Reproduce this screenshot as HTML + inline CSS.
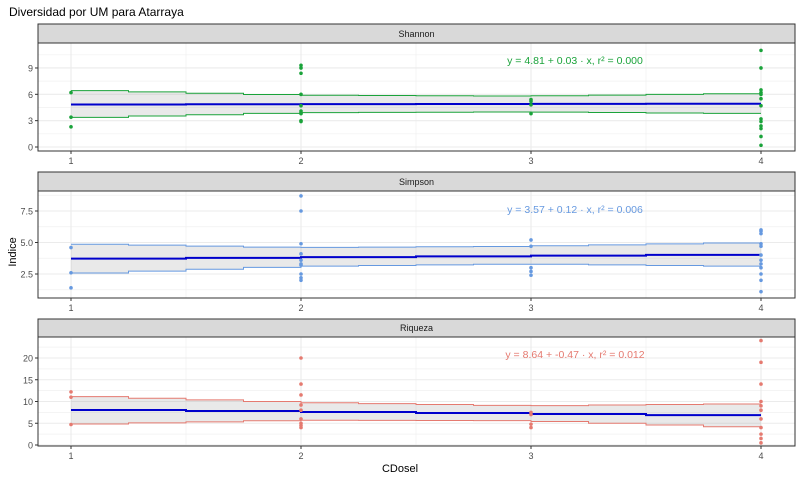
<!DOCTYPE html>
<html><head><meta charset="utf-8"><style>
body{margin:0;background:#fff;font-family:"Liberation Sans",sans-serif}
svg text{font-family:"Liberation Sans",sans-serif}
</style></head><body>
<svg id="c" width="800" height="480" xmlns="http://www.w3.org/2000/svg">
<text x="9" y="16" font-size="12" fill="#000">Diversidad por UM para Atarraya</text>
<text x="400" y="472" font-size="11" text-anchor="middle" fill="#000">CDosel</text>
<text transform="translate(16,252) rotate(-90)" font-size="11" text-anchor="middle" fill="#000">Indice</text>
</svg>
<script>
const categories=[1,2,3,4];
const shannonX=[1,1,1,2,2,2,2,2,2,2,2,2,2,3,3,3,3,4,4,4,4,4,4,4,4,4,4,4,4,4];
const shannonY=[6.2,3.4,2.3,9.3,9.0,8.4,6.0,4.7,4.1,3.9,3.8,3.0,2.9,5.4,5.2,4.8,3.8,11.0,9.0,6.5,6.2,6.0,5.5,4.7,3.2,2.9,2.4,2.1,1.2,0.2];
const shannonUpper=[6.5,5.9,5.8,6.1];
const shannonLower=[3.3,3.9,4.0,3.8];
const shannonTicks=[0,3,6,9];
const simpsonX=[1,1,1,2,2,2,2,2,2,2,2,2,2,3,3,3,3,3,4,4,4,4,4,4,4,4,4,4,4,4];
const simpsonY=[4.6,2.6,1.4,8.7,7.5,4.9,4.1,3.6,3.3,3.2,2.5,2.2,2.0,5.2,4.7,3.0,2.7,2.4,6.0,5.9,5.7,4.9,4.7,4.0,3.6,3.3,3.0,2.5,2.0,1.1];
const simpsonUpper=[4.9,4.6,4.7,5.0];
const simpsonLower=[2.5,3.1,3.3,3.1];
const simpsonTicks=[2.5,5.0,7.5];
const riquezaX=[1,1,1,2,2,2,2,2,2,2,2,2,3,3,3,3,4,4,4,4,4,4,4,4,4,4,4];
const riquezaY=[12.2,11,4.7,20,14,11.5,9.2,8,6,5,4.5,4.0,7.5,7,4.8,4,24,19,14,10,9,8,6,4,2.5,1.5,0.5];
const riquezaUpper=[11.3,9.8,9.0,9.5];
const riquezaLower=[4.7,5.7,5.6,4.0];
const riquezaTicks=[0,5,10,15,20];
const intercepts=[4.81,3.57,8.64];
const slopes=[0.03,0.12,-0.47];
const labels=["y = 4.81 + 0.03 · x,  r² = 0.000","y = 3.57 + 0.12 · x,  r² = 0.006","y = 8.64 + -0.47 · x,  r² = 0.012"];

const svg=document.getElementById('c');
const NS='http://www.w3.org/2000/svg';
function mk(t,a,p){const e=document.createElementNS(NS,t);for(const k in a)e.setAttribute(k,a[k]);(p||svg).appendChild(e);return e;}
const L=38,R=795;
const xs=v=>71+(v-1)*230;
const panels=[
 {name:'Shannon',st:24,top:43,bot:151,y0:147,ppu:8.78,X:shannonX,Y:shannonY,U:shannonUpper,Lo:shannonLower,T:shannonTicks,col:'#1aa33a',ty:64,minor:[1.5,4.5,7.5,10.5]},
 {name:'Simpson',st:172,top:191,bot:298,y0:305.5,ppu:12.6,X:simpsonX,Y:simpsonY,U:simpsonUpper,Lo:simpsonLower,T:simpsonTicks,col:'#6699e0',ty:213,minor:[1.25,3.75,6.25,8.75]},
 {name:'Riqueza',st:319,top:337,bot:446,y0:445,ppu:4.35,X:riquezaX,Y:riquezaY,U:riquezaUpper,Lo:riquezaLower,T:riquezaTicks,col:'#e57a70',ty:358,minor:[2.5,7.5,12.5,17.5,22.5]}
];
function interp(arr,x){const i=Math.min(2,Math.floor(x-1));const f=x-1-i;return arr[i]+(arr[i+1]-arr[i])*f;}
panels.forEach((p,pi)=>{
 const g=mk('g',{});
 
 
 const ys=v=>p.y0-v*p.ppu;
 const strip=mk('rect',{x:L,y:p.st,width:R-L,height:p.top-p.st,fill:'#d9d9d9',stroke:'#333','stroke-width':1},g);
 
 
 const stt=mk('text',{x:(L+R)/2,y:p.top-6,'font-size':9,'text-anchor':'middle',fill:'#1a1a1a'},g);stt.textContent=p.name;
 
 
 p.minor.forEach(v=>{if(ys(v)>p.top&&ys(v)<p.bot)mk('line',{x1:L,x2:R,y1:ys(v),y2:ys(v),stroke:'#f0f0f0','stroke-width':0.7},g);});
 [1.5,2.5,3.5].forEach(v=>mk('line',{x1:xs(v),x2:xs(v),y1:p.top,y2:p.bot,stroke:'#f0f0f0','stroke-width':0.7},g));
 p.T.forEach(v=>{mk('line',{x1:L,x2:R,y1:ys(v),y2:ys(v),stroke:'#ebebeb','stroke-width':1.1},g);
  mk('line',{x1:L-3,x2:L,y1:ys(v),y2:ys(v),stroke:'#333'},g);
  const t=mk('text',{x:L-5,y:ys(v)+3.5,'font-size':9,'text-anchor':'end',fill:'#4d4d4d'},g);t.textContent=p.name==='Simpson'?v.toFixed(1):v;
  
  });
 categories.forEach(c=>{mk('line',{x1:xs(c),x2:xs(c),y1:p.top,y2:p.bot,stroke:'#ebebeb','stroke-width':1.1},g);
  mk('line',{x1:xs(c),x2:xs(c),y1:p.bot,y2:p.bot+3,stroke:'#333'},g);
  const t=mk('text',{x:xs(c),y:p.bot+13,'font-size':9,'text-anchor':'middle',fill:'#4d4d4d'},g);t.textContent=c;
  
  });
 const n=12;let up=[],lo=[];
 for(let i=0;i<n;i++){const a=1+3*i/n,b=1+3*(i+1)/n,m=(a+b)/2;
  up.push([xs(a),ys(interp(p.U,m))],[xs(b),ys(interp(p.U,m))]);
  lo.push([xs(a),ys(interp(p.Lo,m))],[xs(b),ys(interp(p.Lo,m))]);}
 const band=mk('polygon',{points:up.concat(lo.slice().reverse()).map(q=>q.join(',')).join(' '),fill:'#999','fill-opacity':0.22},g);
 
 
 [up,lo].forEach(arr=>{const l=mk('polyline',{points:arr.map(q=>q.join(',')).join(' '),fill:'none',stroke:p.col,'stroke-width':1},g);
  
  });
 let fl=[];const m6=6;
 for(let i=0;i<m6;i++){const a=1+3*i/m6,b=1+3*(i+1)/m6,mm=(a+b)/2,v=intercepts[pi]+slopes[pi]*mm;fl.push([xs(a),ys(v)],[xs(b),ys(v)]);}
 const fit=mk('polyline',{points:fl.map(q=>q.join(',')).join(' '),fill:'none',stroke:'#0000cc','stroke-width':2},g);
 
 
 p.X.forEach((x,i)=>{const d=mk('circle',{cx:xs(x),cy:ys(p.Y[i]),r:1.8,fill:p.col},g);
  
  });
 const lab=mk('text',{x:575,y:p.ty,'font-size':10.5,'text-anchor':'middle',fill:p.col},g);lab.textContent=labels[pi];
 
 
 const fr=mk('rect',{x:L,y:p.top,width:R-L,height:p.bot-p.top,fill:'none',stroke:'#333','stroke-width':1},g);
 
 
});
</script>
</body></html>
